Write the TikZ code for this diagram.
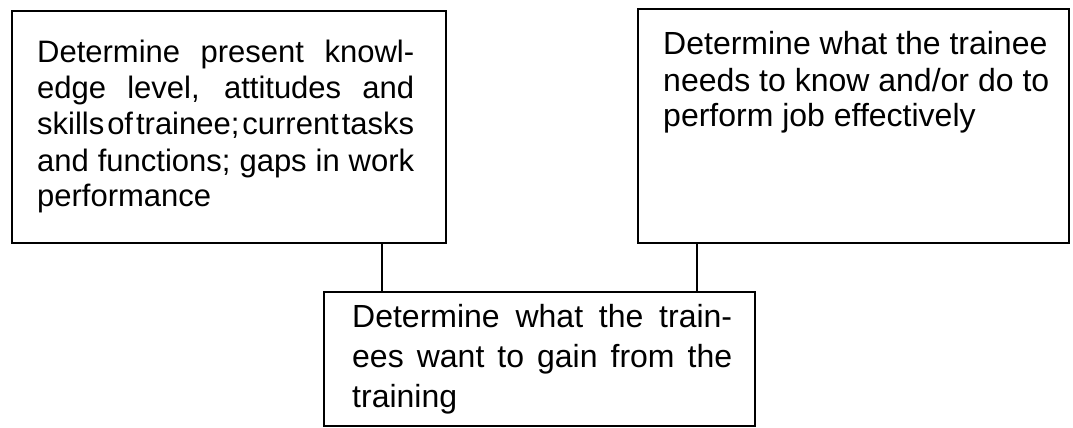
\documentclass[tikz,border=0pt]{standalone}
\usepackage{fontspec}
\setmainfont{Liberation Sans}
\begin{document}
\begin{tikzpicture}[x=1pt,y=-1pt,
  frame/.style={draw, line width=1.6pt, inner sep=0pt, anchor=north west},
  body/.style={anchor=base west, inner sep=0pt},
  link/.style={line width=1.6pt}]
\useasboundingbox (0,0) rectangle (1073,428);

% the three boxes
\node[frame, minimum width=434pt, minimum height=232pt] (present) at (11,10) {};
\node[frame, minimum width=431pt, minimum height=234pt] (needs) at (637,8) {};
\node[frame, minimum width=431pt, minimum height=134pt] (wants) at (323,291) {};

% texts, set line by line
\node[body, font=\fontsize{31}{36}\selectfont] (presentText) at (37,63) {%
  \begin{minipage}[t]{377pt}\setlength{\parindent}{0pt}%
  \makebox[\linewidth][s]{Determine present knowl-}\par
  \makebox[\linewidth][s]{edge level, attitudes and}\par
  \makebox[\linewidth][s]{skills\hspace{1pt plus 1fil}of\hspace{1pt plus 1fil}trainee;\hspace{1pt plus 1fil}current\hspace{1pt plus 1fil}tasks}\par
  \makebox[\linewidth][s]{and functions; gaps in work}\par
  performance
  \end{minipage}};

\node[body, font=\fontsize{32}{36}\selectfont] (needsText) at (663,55) {%
  \begin{minipage}[t]{395pt}\setlength{\parindent}{0pt}%
  Determine what the trainee\par
  needs to know and/or do to\par
  perform job effectively
  \end{minipage}};

\node[body, font=\fontsize{32}{40}\selectfont] (wantsText) at (352,327) {%
  \begin{minipage}[t]{380pt}\setlength{\parindent}{0pt}%
  \makebox[\linewidth][s]{Determine what the train-}\par
  \makebox[\linewidth][s]{ees want to gain from the}\par
  training
  \end{minipage}};

% connectors
\coordinate (leftDrop) at (382,0);
\coordinate (rightDrop) at (697,0);
\draw[link] (present.south -| leftDrop) -- (wants.north -| leftDrop);
\draw[link] (needs.south -| rightDrop) -- (wants.north -| rightDrop);
\end{tikzpicture}
\end{document}
